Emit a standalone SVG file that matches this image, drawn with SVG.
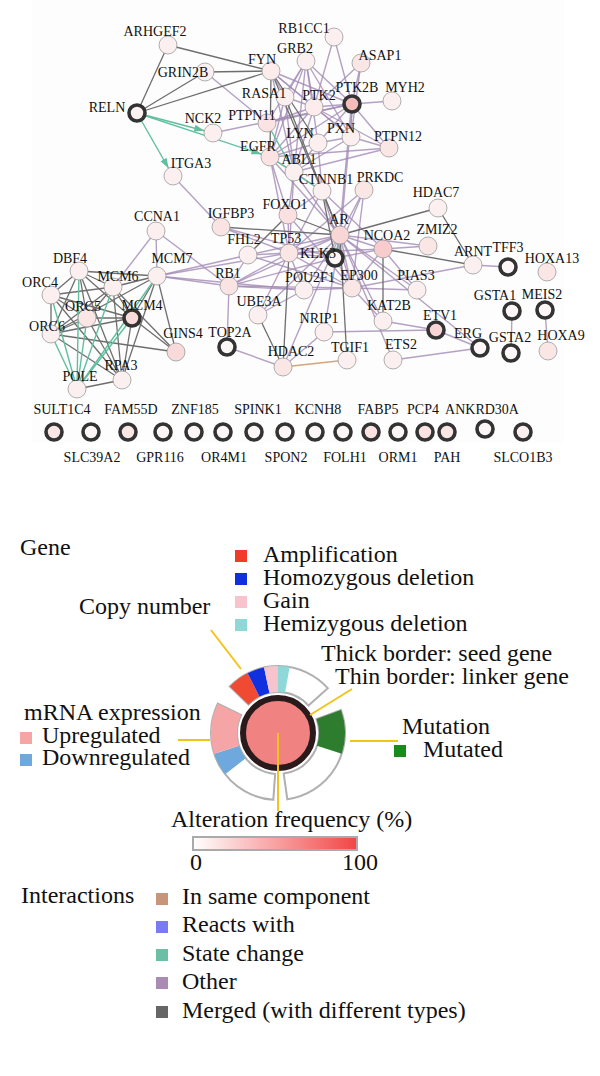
<svg xmlns="http://www.w3.org/2000/svg" width="600" height="1076" viewBox="0 0 600 1076">
<style>
text{font-family:"Liberation Serif","Times New Roman",serif;fill:#111}
.nl{font-size:14px;text-anchor:middle}
.lg{font-size:24px}
.o{stroke:#a38ab5;stroke-width:1.4;stroke-opacity:.8}
.m{stroke:#6e6e6e;stroke-width:1.3}
.s{stroke:#5fbf9f;stroke-width:1.4}
.c{stroke:#d4a57c;stroke-width:1.4}
.thin{stroke:#9a9a9a;stroke-width:.8}
.thick{stroke:#333;stroke-width:3.6}
.y{stroke:#f2c31a;stroke-width:2}
.sec{fill:#fff;stroke:#b0b0b0;stroke-width:2}
</style>
<defs>
<marker id="arr" markerUnits="userSpaceOnUse" markerWidth="30" markerHeight="10" refX="19" refY="3.5" orient="auto"><path d="M0,0 L10,3.5 L0,7 z" fill="#5fbf9f"/></marker>
<linearGradient id="grad" x1="0" x2="1" y1="0" y2="0"><stop offset="0" stop-color="#ffffff"/><stop offset="1" stop-color="#f24545"/></linearGradient>
</defs>
<rect x="32" y="0" width="532" height="443" fill="#fdfdfd"/>
<g id="connectors">
<line class="o" x1="205" y1="72" x2="267" y2="123"/>
<line class="o" x1="213" y1="133" x2="352" y2="104"/>
<line class="o" x1="271" y1="71" x2="352" y2="104"/>
<line class="o" x1="271" y1="71" x2="314" y2="107"/>
<line class="o" x1="271" y1="71" x2="285" y2="97"/>
<line class="o" x1="271" y1="71" x2="351" y2="137"/>
<line class="o" x1="271" y1="71" x2="294" y2="172"/>
<line class="o" x1="306" y1="61" x2="352" y2="104"/>
<line class="o" x1="306" y1="61" x2="314" y2="107"/>
<line class="o" x1="306" y1="61" x2="285" y2="97"/>
<line class="o" x1="306" y1="61" x2="267" y2="123"/>
<line class="o" x1="306" y1="61" x2="270" y2="157"/>
<line class="o" x1="306" y1="61" x2="294" y2="172"/>
<line class="o" x1="306" y1="61" x2="351" y2="137"/>
<line class="o" x1="306" y1="61" x2="318" y2="143"/>
<line class="o" x1="334" y1="37" x2="314" y2="107"/>
<line class="o" x1="334" y1="37" x2="352" y2="104"/>
<line class="o" x1="361" y1="63" x2="352" y2="104"/>
<line class="o" x1="361" y1="63" x2="314" y2="107"/>
<line class="o" x1="361" y1="63" x2="351" y2="137"/>
<line class="o" x1="352" y1="104" x2="392" y2="101"/>
<line class="o" x1="352" y1="104" x2="314" y2="107"/>
<line class="o" x1="352" y1="104" x2="351" y2="137"/>
<line class="o" x1="352" y1="104" x2="389" y2="148"/>
<line class="o" x1="352" y1="104" x2="340" y2="235" style="stroke-width:2.6"/>
<line class="o" x1="352" y1="104" x2="318" y2="143"/>
<line class="o" x1="352" y1="104" x2="267" y2="123"/>
<line class="o" x1="352" y1="104" x2="270" y2="157"/>
<line class="o" x1="314" y1="107" x2="351" y2="137"/>
<line class="o" x1="314" y1="107" x2="270" y2="157"/>
<line class="o" x1="314" y1="107" x2="267" y2="123"/>
<line class="o" x1="314" y1="107" x2="285" y2="97"/>
<line class="o" x1="314" y1="107" x2="294" y2="172"/>
<line class="o" x1="314" y1="107" x2="389" y2="148"/>
<line class="o" x1="351" y1="137" x2="389" y2="148"/>
<line class="o" x1="351" y1="137" x2="294" y2="172"/>
<line class="o" x1="351" y1="137" x2="318" y2="143"/>
<line class="o" x1="389" y1="148" x2="270" y2="157"/>
<line class="o" x1="389" y1="148" x2="294" y2="172"/>
<line class="o" x1="270" y1="157" x2="294" y2="172"/>
<line class="o" x1="270" y1="157" x2="318" y2="143"/>
<line class="o" x1="270" y1="157" x2="288" y2="215"/>
<line class="o" x1="270" y1="157" x2="340" y2="235"/>
<line class="o" x1="270" y1="157" x2="289" y2="253"/>
<line class="o" x1="285" y1="97" x2="270" y2="157"/>
<line class="o" x1="285" y1="97" x2="294" y2="172"/>
<line class="o" x1="318" y1="143" x2="294" y2="172"/>
<line class="o" x1="318" y1="143" x2="322" y2="191"/>
<line class="o" x1="294" y1="172" x2="322" y2="191"/>
<line class="o" x1="294" y1="172" x2="289" y2="253"/>
<line class="o" x1="294" y1="172" x2="340" y2="235"/>
<line class="o" x1="294" y1="172" x2="288" y2="215"/>
<line class="o" x1="322" y1="191" x2="288" y2="215"/>
<line class="o" x1="322" y1="191" x2="289" y2="253"/>
<line class="o" x1="322" y1="191" x2="383" y2="249"/>
<line class="o" x1="322" y1="191" x2="352" y2="288"/>
<line class="o" x1="364" y1="190" x2="340" y2="235"/>
<line class="o" x1="364" y1="190" x2="289" y2="253"/>
<line class="o" x1="364" y1="190" x2="335" y2="258"/>
<line class="o" x1="364" y1="190" x2="352" y2="288"/>
<line class="o" x1="288" y1="215" x2="289" y2="253"/>
<line class="o" x1="288" y1="215" x2="352" y2="288"/>
<line class="o" x1="173" y1="176" x2="221" y2="227"/>
<line class="o" x1="221" y1="227" x2="289" y2="253"/>
<line class="o" x1="221" y1="227" x2="335" y2="258"/>
<line class="o" x1="248" y1="255" x2="340" y2="235"/>
<line class="o" x1="248" y1="255" x2="289" y2="253"/>
<line class="o" x1="248" y1="255" x2="229" y2="286"/>
<line class="o" x1="248" y1="255" x2="352" y2="288"/>
<line class="o" x1="289" y1="253" x2="340" y2="235"/>
<line class="o" x1="289" y1="253" x2="352" y2="288"/>
<line class="o" x1="289" y1="253" x2="335" y2="258"/>
<line class="o" x1="289" y1="253" x2="229" y2="286"/>
<line class="o" x1="289" y1="253" x2="258" y2="315"/>
<line class="o" x1="289" y1="253" x2="304" y2="290"/>
<line class="o" x1="289" y1="253" x2="383" y2="249"/>
<line class="o" x1="289" y1="253" x2="157" y2="276"/>
<line class="o" x1="340" y1="235" x2="383" y2="249"/>
<line class="o" x1="340" y1="235" x2="352" y2="288"/>
<line class="o" x1="340" y1="235" x2="304" y2="290"/>
<line class="o" x1="340" y1="235" x2="428" y2="246"/>
<line class="o" x1="340" y1="235" x2="417" y2="290"/>
<line class="o" x1="340" y1="235" x2="383" y2="321"/>
<line class="o" x1="340" y1="235" x2="324" y2="332"/>
<line class="o" x1="340" y1="235" x2="283" y2="367"/>
<line class="o" x1="340" y1="235" x2="229" y2="286"/>
<line class="o" x1="340" y1="235" x2="393" y2="360"/>
<line class="o" x1="340" y1="235" x2="480" y2="348"/>
<line class="o" x1="340" y1="235" x2="258" y2="315"/>
<line class="o" x1="383" y1="249" x2="428" y2="246"/>
<line class="o" x1="383" y1="249" x2="417" y2="290"/>
<line class="o" x1="383" y1="249" x2="352" y2="288"/>
<line class="o" x1="383" y1="249" x2="335" y2="258"/>
<line class="o" x1="473" y1="265" x2="508" y2="267"/>
<line class="o" x1="352" y1="288" x2="473" y2="265"/>
<line class="o" x1="352" y1="288" x2="383" y2="321"/>
<line class="o" x1="352" y1="288" x2="417" y2="290"/>
<line class="o" x1="352" y1="288" x2="229" y2="286"/>
<line class="o" x1="352" y1="288" x2="335" y2="258"/>
<line class="o" x1="352" y1="288" x2="304" y2="290"/>
<line class="o" x1="383" y1="321" x2="436" y2="330"/>
<line class="o" x1="324" y1="332" x2="436" y2="330"/>
<line class="o" x1="480" y1="348" x2="393" y2="360"/>
<line class="o" x1="436" y1="330" x2="480" y2="348"/>
<line class="o" x1="258" y1="315" x2="304" y2="290"/>
<line class="o" x1="229" y1="286" x2="227" y2="347"/>
<line class="o" x1="229" y1="286" x2="157" y2="276"/>
<line class="o" x1="229" y1="286" x2="156" y2="231"/>
<line class="o" x1="229" y1="286" x2="335" y2="258"/>
<line class="o" x1="229" y1="286" x2="304" y2="290"/>
<line class="o" x1="227" y1="347" x2="283" y2="367"/>
<line class="o" x1="283" y1="367" x2="324" y2="332"/>
<line class="o" x1="512" y1="311" x2="511" y2="353"/>
<line class="o" x1="545" y1="310" x2="548" y2="351"/>
<line class="o" x1="157" y1="276" x2="248" y2="255"/>
<line class="o" x1="157" y1="276" x2="304" y2="290"/>
<line class="o" x1="157" y1="276" x2="156" y2="231"/>
<line class="o" x1="156" y1="231" x2="113" y2="287"/>
<line class="m" x1="137" y1="113" x2="168" y2="45"/>
<line class="m" x1="137" y1="113" x2="205" y2="72"/>
<line class="m" x1="137" y1="113" x2="271" y2="71"/>
<line class="m" x1="168" y1="45" x2="271" y2="71"/>
<line class="m" x1="205" y1="72" x2="271" y2="71"/>
<line class="m" x1="271" y1="71" x2="318" y2="143"/>
<line class="m" x1="271" y1="71" x2="270" y2="157"/>
<line class="m" x1="271" y1="71" x2="322" y2="191"/>
<line class="m" x1="285" y1="97" x2="340" y2="235"/>
<line class="m" x1="322" y1="191" x2="340" y2="235"/>
<line class="m" x1="322" y1="191" x2="335" y2="258"/>
<line class="m" x1="340" y1="235" x2="438" y2="208"/>
<line class="m" x1="438" y1="208" x2="473" y2="265"/>
<line class="m" x1="383" y1="249" x2="473" y2="265"/>
<line class="m" x1="383" y1="249" x2="383" y2="321"/>
<line class="m" x1="347" y1="360" x2="340" y2="235"/>
<line class="m" x1="283" y1="367" x2="258" y2="315"/>
<line class="m" x1="283" y1="367" x2="289" y2="253"/>
<line class="m" x1="221" y1="227" x2="340" y2="235"/>
<line class="m" x1="288" y1="215" x2="248" y2="255"/>
<line class="m" x1="288" y1="215" x2="340" y2="235"/>
<line class="m" x1="157" y1="276" x2="113" y2="287"/>
<line class="m" x1="157" y1="276" x2="132" y2="318"/>
<line class="m" x1="157" y1="276" x2="176" y2="352"/>
<line class="m" x1="157" y1="276" x2="122" y2="380"/>
<line class="m" x1="79" y1="271" x2="157" y2="276"/>
<line class="m" x1="79" y1="271" x2="113" y2="287"/>
<line class="m" x1="79" y1="271" x2="51" y2="295"/>
<line class="m" x1="79" y1="271" x2="87" y2="318"/>
<line class="m" x1="79" y1="271" x2="51" y2="334"/>
<line class="m" x1="79" y1="271" x2="132" y2="318"/>
<line class="m" x1="79" y1="271" x2="122" y2="380"/>
<line class="m" x1="51" y1="295" x2="113" y2="287"/>
<line class="m" x1="51" y1="295" x2="87" y2="318"/>
<line class="m" x1="51" y1="295" x2="51" y2="334"/>
<line class="m" x1="51" y1="295" x2="132" y2="318"/>
<line class="m" x1="51" y1="295" x2="122" y2="380"/>
<line class="m" x1="87" y1="318" x2="113" y2="287"/>
<line class="m" x1="87" y1="318" x2="132" y2="318"/>
<line class="m" x1="87" y1="318" x2="51" y2="334"/>
<line class="m" x1="87" y1="318" x2="122" y2="380"/>
<line class="m" x1="51" y1="334" x2="113" y2="287"/>
<line class="m" x1="51" y1="334" x2="132" y2="318"/>
<line class="m" x1="51" y1="334" x2="157" y2="276"/>
<line class="m" x1="51" y1="334" x2="122" y2="380"/>
<line class="m" x1="51" y1="334" x2="176" y2="352"/>
<line class="m" x1="113" y1="287" x2="132" y2="318"/>
<line class="m" x1="113" y1="287" x2="122" y2="380"/>
<line class="m" x1="113" y1="287" x2="176" y2="352"/>
<line class="m" x1="132" y1="318" x2="176" y2="352"/>
<line class="m" x1="132" y1="318" x2="122" y2="380"/>
<line class="m" x1="77" y1="389" x2="122" y2="380"/>
<line class="s" x1="137" y1="113" x2="213" y2="133" marker-end="url(#arr)"/>
<line class="s" x1="137" y1="113" x2="173" y2="176" marker-end="url(#arr)"/>
<line class="s" x1="137" y1="113" x2="270" y2="157" marker-end="url(#arr)"/>
<line class="s" x1="267" y1="123" x2="294" y2="172"/>
<line class="s" x1="270" y1="157" x2="322" y2="191"/>
<line class="s" x1="340" y1="235" x2="335" y2="258"/>
<line class="s" x1="77" y1="389" x2="51" y2="295"/>
<line class="s" x1="77" y1="389" x2="51" y2="334"/>
<line class="s" x1="77" y1="389" x2="79" y2="271"/>
<line class="s" x1="77" y1="389" x2="87" y2="318"/>
<line class="s" x1="77" y1="389" x2="113" y2="287"/>
<line class="s" x1="77" y1="389" x2="132" y2="318"/>
<line class="s" x1="77" y1="389" x2="157" y2="276"/>
<line class="c" x1="283" y1="367" x2="347" y2="360"/>
</g>
<g id="n-ARHGEF2"><circle class="thin" cx="168" cy="45" r="9" fill="#fcefef"/><text class="nl" x="155" y="36">ARHGEF2</text></g>
<g id="n-GRIN2B"><circle class="thin" cx="205" cy="72" r="9" fill="#fcefef"/><text class="nl" x="183" y="77">GRIN2B</text></g>
<g id="n-FYN"><circle class="thin" cx="271" cy="71" r="9" fill="#fcecec"/><text class="nl" x="262" y="64">FYN</text></g>
<g id="n-RELN"><circle class="thick" cx="137" cy="113" r="8" fill="#fdf2f2"/><text class="nl" x="107" y="112">RELN</text></g>
<g id="n-NCK2"><circle class="thin" cx="213" cy="133" r="9" fill="#fcefef"/><text class="nl" x="203" y="123">NCK2</text></g>
<g id="n-PTPN11"><circle class="thin" cx="267" cy="123" r="9" fill="#fbe3e3"/><text class="nl" x="252" y="120">PTPN11</text></g>
<g id="n-RASA1"><circle class="thin" cx="285" cy="97" r="9" fill="#fcefef"/><text class="nl" x="264" y="98">RASA1</text></g>
<g id="n-GRB2"><circle class="thin" cx="306" cy="61" r="9" fill="#fcefef"/><text class="nl" x="295" y="53">GRB2</text></g>
<g id="n-RB1CC1"><circle class="thin" cx="334" cy="37" r="9" fill="#fcefef"/><text class="nl" x="304" y="33">RB1CC1</text></g>
<g id="n-PTK2"><circle class="thin" cx="314" cy="107" r="9" fill="#fcecec"/><text class="nl" x="319" y="100">PTK2</text></g>
<g id="n-LYN"><circle class="thin" cx="318" cy="143" r="9" fill="#fcefef"/><text class="nl" x="300" y="138">LYN</text></g>
<g id="n-EGFR"><circle class="thin" cx="270" cy="157" r="9" fill="#fbe3e3"/><text class="nl" x="258" y="151">EGFR</text></g>
<g id="n-ABL1"><circle class="thin" cx="294" cy="172" r="9" fill="#fcefef"/><text class="nl" x="299" y="164">ABL1</text></g>
<g id="n-ITGA3"><circle class="thin" cx="173" cy="176" r="9" fill="#fcefef"/><text class="nl" x="191" y="168">ITGA3</text></g>
<g id="n-ASAP1"><circle class="thin" cx="361" cy="63" r="9" fill="#fbe6e6"/><text class="nl" x="380" y="60">ASAP1</text></g>
<g id="n-PTK2B"><circle class="thick" cx="352" cy="104" r="8" fill="#f5bcbc"/><text class="nl" x="357" y="92">PTK2B</text></g>
<g id="n-MYH2"><circle class="thin" cx="392" cy="101" r="9" fill="#fcefef"/><text class="nl" x="405" y="92">MYH2</text></g>
<g id="n-PXN"><circle class="thin" cx="351" cy="137" r="9" fill="#fcefef"/><text class="nl" x="341" y="133">PXN</text></g>
<g id="n-PTPN12"><circle class="thin" cx="389" cy="148" r="9" fill="#fbe6e6"/><text class="nl" x="398" y="141">PTPN12</text></g>
<g id="n-CTNNB1"><circle class="thin" cx="322" cy="191" r="9" fill="#fcefef"/><text class="nl" x="326" y="184">CTNNB1</text></g>
<g id="n-PRKDC"><circle class="thin" cx="364" cy="190" r="9" fill="#fbe6e6"/><text class="nl" x="380" y="182">PRKDC</text></g>
<g id="n-FOXO1"><circle class="thin" cx="288" cy="215" r="9" fill="#fae0e0"/><text class="nl" x="285" y="209">FOXO1</text></g>
<g id="n-CCNA1"><circle class="thin" cx="156" cy="231" r="9" fill="#fcefef"/><text class="nl" x="157" y="221">CCNA1</text></g>
<g id="n-IGFBP3"><circle class="thin" cx="221" cy="227" r="9" fill="#fae3e3"/><text class="nl" x="231" y="218">IGFBP3</text></g>
<g id="n-FHL2"><circle class="thin" cx="248" cy="255" r="9" fill="#fcefef"/><text class="nl" x="244" y="244">FHL2</text></g>
<g id="n-TP53"><circle class="thin" cx="289" cy="253" r="9" fill="#fbe6e6"/><text class="nl" x="286" y="243">TP53</text></g>
<g id="n-AR"><circle class="thin" cx="340" cy="235" r="9" fill="#f9d6d6"/><text class="nl" x="339" y="224">AR</text></g>
<g id="n-KLK3"><circle class="thick" cx="335" cy="258" r="8" fill="#fdf6f6"/><text class="nl" x="318" y="258">KLK3</text></g>
<g id="n-MCM7"><circle class="thin" cx="157" cy="276" r="9" fill="#fcefef"/><text class="nl" x="172" y="263">MCM7</text></g>
<g id="n-RB1"><circle class="thin" cx="229" cy="286" r="9" fill="#fae3e3"/><text class="nl" x="228" y="278">RB1</text></g>
<g id="n-POU2F1"><circle class="thin" cx="304" cy="290" r="9" fill="#fcefef"/><text class="nl" x="310" y="282">POU2F1</text></g>
<g id="n-HDAC7"><circle class="thin" cx="438" cy="208" r="9" fill="#fcefef"/><text class="nl" x="436" y="197">HDAC7</text></g>
<g id="n-NCOA2"><circle class="thin" cx="383" cy="249" r="9" fill="#f8cccc"/><text class="nl" x="387" y="240">NCOA2</text></g>
<g id="n-ZMIZ2"><circle class="thin" cx="428" cy="246" r="9" fill="#fbe6e6"/><text class="nl" x="437" y="234">ZMIZ2</text></g>
<g id="n-ARNT"><circle class="thin" cx="473" cy="265" r="9" fill="#fcefef"/><text class="nl" x="473" y="256">ARNT</text></g>
<g id="n-TFF3"><circle class="thick" cx="508" cy="267" r="8" fill="#fdf6f6"/><text class="nl" x="508" y="252">TFF3</text></g>
<g id="n-HOXA13"><circle class="thin" cx="547" cy="272" r="9" fill="#fbe6e6"/><text class="nl" x="552" y="263">HOXA13</text></g>
<g id="n-EP300"><circle class="thin" cx="352" cy="288" r="9" fill="#fbe6e6"/><text class="nl" x="359" y="280">EP300</text></g>
<g id="n-PIAS3"><circle class="thin" cx="417" cy="290" r="9" fill="#fcefef"/><text class="nl" x="416" y="280">PIAS3</text></g>
<g id="n-KAT2B"><circle class="thin" cx="383" cy="321" r="9" fill="#fcefef"/><text class="nl" x="389" y="310">KAT2B</text></g>
<g id="n-UBE3A"><circle class="thin" cx="258" cy="315" r="9" fill="#fcefef"/><text class="nl" x="259" y="306">UBE3A</text></g>
<g id="n-NRIP1"><circle class="thin" cx="324" cy="332" r="9" fill="#fcefef"/><text class="nl" x="319" y="323">NRIP1</text></g>
<g id="n-ETV1"><circle class="thick" cx="436" cy="330" r="8" fill="#f8d4d4"/><text class="nl" x="440" y="320">ETV1</text></g>
<g id="n-TOP2A"><circle class="thick" cx="227" cy="347" r="8" fill="#fdf6f6"/><text class="nl" x="230" y="337">TOP2A</text></g>
<g id="n-HDAC2"><circle class="thin" cx="283" cy="367" r="9" fill="#fbe6e6"/><text class="nl" x="291" y="356">HDAC2</text></g>
<g id="n-TGIF1"><circle class="thin" cx="347" cy="360" r="9" fill="#fcefef"/><text class="nl" x="350" y="352">TGIF1</text></g>
<g id="n-ETS2"><circle class="thin" cx="393" cy="360" r="9" fill="#fcefef"/><text class="nl" x="401" y="349">ETS2</text></g>
<g id="n-ERG"><circle class="thick" cx="480" cy="348" r="8" fill="#fdf6f6"/><text class="nl" x="468" y="338">ERG</text></g>
<g id="n-GSTA1"><circle class="thick" cx="512" cy="311" r="8" fill="#fdf6f6"/><text class="nl" x="495" y="300">GSTA1</text></g>
<g id="n-MEIS2"><circle class="thick" cx="545" cy="310" r="8" fill="#fdf6f6"/><text class="nl" x="542" y="299">MEIS2</text></g>
<g id="n-GSTA2"><circle class="thick" cx="511" cy="353" r="8" fill="#fdf6f6"/><text class="nl" x="510" y="342">GSTA2</text></g>
<g id="n-HOXA9"><circle class="thin" cx="548" cy="351" r="9" fill="#fbe6e6"/><text class="nl" x="561" y="340">HOXA9</text></g>
<g id="n-DBF4"><circle class="thin" cx="79" cy="271" r="9" fill="#fcefef"/><text class="nl" x="70" y="263">DBF4</text></g>
<g id="n-MCM6"><circle class="thin" cx="113" cy="287" r="9" fill="#fcefef"/><text class="nl" x="118" y="281">MCM6</text></g>
<g id="n-ORC4"><circle class="thin" cx="51" cy="295" r="9" fill="#fcefef"/><text class="nl" x="40" y="287">ORC4</text></g>
<g id="n-ORC5"><circle class="thin" cx="87" cy="318" r="9" fill="#fbe6e6"/><text class="nl" x="83" y="311">ORC5</text></g>
<g id="n-MCM4"><circle class="thick" cx="132" cy="318" r="8" fill="#f8dcdc"/><text class="nl" x="142" y="310">MCM4</text></g>
<g id="n-ORC6"><circle class="thin" cx="51" cy="334" r="9" fill="#fcefef"/><text class="nl" x="47" y="331">ORC6</text></g>
<g id="n-GINS4"><circle class="thin" cx="176" cy="352" r="9" fill="#f9dada"/><text class="nl" x="183" y="338">GINS4</text></g>
<g id="n-RPA3"><circle class="thin" cx="122" cy="380" r="9" fill="#fcefef"/><text class="nl" x="121" y="370">RPA3</text></g>
<g id="n-POLE"><circle class="thin" cx="77" cy="389" r="9" fill="#fcefef"/><text class="nl" x="80" y="381">POLE</text></g>
<g id="n-SULT1C4"><circle class="thick" cx="54" cy="432" r="8" fill="#fbe6e6"/><text class="nl" x="62" y="414">SULT1C4</text></g>
<g id="n-SLC39A2"><circle class="thick" cx="91" cy="432" r="8" fill="#fdf6f6"/><text class="nl" x="92" y="462">SLC39A2</text></g>
<g id="n-FAM55D"><circle class="thick" cx="128" cy="432" r="8" fill="#fbe6e6"/><text class="nl" x="131" y="414">FAM55D</text></g>
<g id="n-GPR116"><circle class="thick" cx="163" cy="432" r="8" fill="#fdf6f6"/><text class="nl" x="160" y="462">GPR116</text></g>
<g id="n-ZNF185"><circle class="thick" cx="194" cy="432" r="8" fill="#fdf6f6"/><text class="nl" x="195" y="414">ZNF185</text></g>
<g id="n-OR4M1"><circle class="thick" cx="223" cy="432" r="8" fill="#fdf6f6"/><text class="nl" x="224" y="462">OR4M1</text></g>
<g id="n-SPINK1"><circle class="thick" cx="254" cy="432" r="8" fill="#fdf6f6"/><text class="nl" x="258" y="414">SPINK1</text></g>
<g id="n-SPON2"><circle class="thick" cx="285" cy="432" r="8" fill="#fdf6f6"/><text class="nl" x="286" y="462">SPON2</text></g>
<g id="n-KCNH8"><circle class="thick" cx="315" cy="432" r="8" fill="#fdf6f6"/><text class="nl" x="318" y="414">KCNH8</text></g>
<g id="n-FOLH1"><circle class="thick" cx="343" cy="432" r="8" fill="#fdf6f6"/><text class="nl" x="345" y="462">FOLH1</text></g>
<g id="n-FABP5"><circle class="thick" cx="371" cy="432" r="8" fill="#fbe3e3"/><text class="nl" x="378" y="414">FABP5</text></g>
<g id="n-ORM1"><circle class="thick" cx="398" cy="432" r="8" fill="#fdf6f6"/><text class="nl" x="398" y="462">ORM1</text></g>
<g id="n-PCP4"><circle class="thick" cx="425" cy="432" r="8" fill="#fbe3e3"/><text class="nl" x="423" y="414">PCP4</text></g>
<g id="n-PAH"><circle class="thick" cx="447" cy="432" r="8" fill="#fbe6e6"/><text class="nl" x="447" y="462">PAH</text></g>
<g id="n-ANKRD30A"><circle class="thick" cx="485" cy="429" r="8" fill="#fdf6f6"/><text class="nl" x="482" y="414">ANKRD30A</text></g>
<g id="n-SLCO1B3"><circle class="thick" cx="523" cy="432" r="8" fill="#fcefef"/><text class="nl" x="523" y="462">SLCO1B3</text></g>
<g id="legend-gene">
<text class="lg" x="20" y="555">Gene</text>
<rect x="235" y="550" width="12" height="12" fill="#f03a2a"/><text class="lg" x="263" y="562">Amplification</text>
<rect x="235" y="573" width="12" height="12" fill="#1030e0"/><text class="lg" x="263" y="585">Homozygous deletion</text>
<rect x="235" y="596" width="12" height="12" fill="#f7c3cd"/><text class="lg" x="263" y="608">Gain</text>
<rect x="235" y="619" width="12" height="12" fill="#8fd8d8"/><text class="lg" x="263" y="631">Hemizygous deletion</text>
<text class="lg" x="79" y="614">Copy number</text>
<text class="lg" x="321" y="661">Thick border: seed gene</text>
<text class="lg" x="335" y="684">Thin border: linker gene</text>
<text class="lg" x="24" y="720">mRNA expression</text>
<rect x="20" y="732" width="12" height="12" fill="#f5a5a5"/><text class="lg" x="42" y="743">Upregulated</text>
<rect x="20" y="754" width="12" height="12" fill="#6fa8dc"/><text class="lg" x="42" y="765">Downregulated</text>
<text class="lg" x="402" y="734">Mutation</text>
<rect x="394" y="745" width="12" height="12" fill="#1a8a1a"/><text class="lg" x="423" y="757">Mutated</text>
<path class="sec" d="M229.81,686.46 A67,67 0 0 1 327.79,688.17 L308.47,705.57 A41,41 0 0 0 248.51,704.52 Z"/>
<path d="M229.81,686.46 A67,67 0 0 1 247.58,673.30 L259.39,696.47 A41,41 0 0 0 248.51,704.52 Z" fill="#f04a32"/>
<path d="M247.58,673.30 A67,67 0 0 1 264.07,667.47 L269.48,692.90 A41,41 0 0 0 259.39,696.47 Z" fill="#1030e0"/>
<path d="M264.07,667.47 A67,67 0 0 1 278,666 L278,692 A41,41 0 0 0 269.48,692.90 Z" fill="#f7c3cd"/>
<path d="M278,666 A67,67 0 0 1 289.63,667.02 L285.12,692.62 A41,41 0 0 0 278,692 Z" fill="#8fd8d8"/>
<path class="sec" d="M340.96,710.09 A67,67 0 0 1 287.33,799.35 L283.71,773.60 A41,41 0 0 0 316.53,718.98 Z"/>
<path d="M340.96,710.09 A67,67 0 0 1 341.72,753.70 L316.99,745.67 A41,41 0 0 0 316.53,718.98 Z" fill="#2e7d2e"/>
<path class="sec" d="M273.32,799.84 A67,67 0 0 1 217.78,703.63 L241.15,715.03 A41,41 0 0 0 275.14,773.90 Z"/>
<path d="M225.20,774.25 A67,67 0 0 1 214.28,753.70 L239.01,745.67 A41,41 0 0 0 245.69,758.24 Z" fill="#6fa8dc"/>
<path d="M214.28,753.70 A67,67 0 0 1 217.78,703.63 L241.15,715.03 A41,41 0 0 0 239.01,745.67 Z" fill="#f5a5a5"/>
<circle cx="278" cy="733" r="35" fill="#f08282" stroke="#2b1a1c" stroke-width="6"/>
<line class="y" x1="211" y1="630" x2="241" y2="669"/>
<line class="y" x1="352" y1="689" x2="310" y2="715"/>
<line class="y" x1="178" y1="740" x2="210" y2="740"/>
<line class="y" x1="350" y1="741" x2="398" y2="741"/>
<line class="y" x1="278" y1="733" x2="278" y2="811"/>
<text class="lg" x="171" y="827">Alteration frequency (%)</text>
<rect x="193" y="837" width="164" height="13" fill="url(#grad)" stroke="#aaa" stroke-width="2"/>
<text class="lg" x="196" y="870" text-anchor="middle">0</text>
<text class="lg" x="360" y="870" text-anchor="middle">100</text>
</g>
<g id="legend-interactions">
<text class="lg" x="21" y="903">Interactions</text>
<rect x="156" y="893" width="12" height="12" fill="#c8957a"/><text class="lg" x="182" y="904">In same component</text>
<rect x="156" y="921" width="12" height="12" fill="#7b7bf0"/><text class="lg" x="182" y="932">Reacts with</text>
<rect x="156" y="949" width="12" height="12" fill="#6bbfa5"/><text class="lg" x="182" y="961">State change</text>
<rect x="156" y="977" width="12" height="12" fill="#a98bb5"/><text class="lg" x="182" y="989">Other</text>
<rect x="156" y="1006" width="12" height="12" fill="#666"/><text class="lg" x="182" y="1018">Merged (with different types)</text>
</g>
</svg>
